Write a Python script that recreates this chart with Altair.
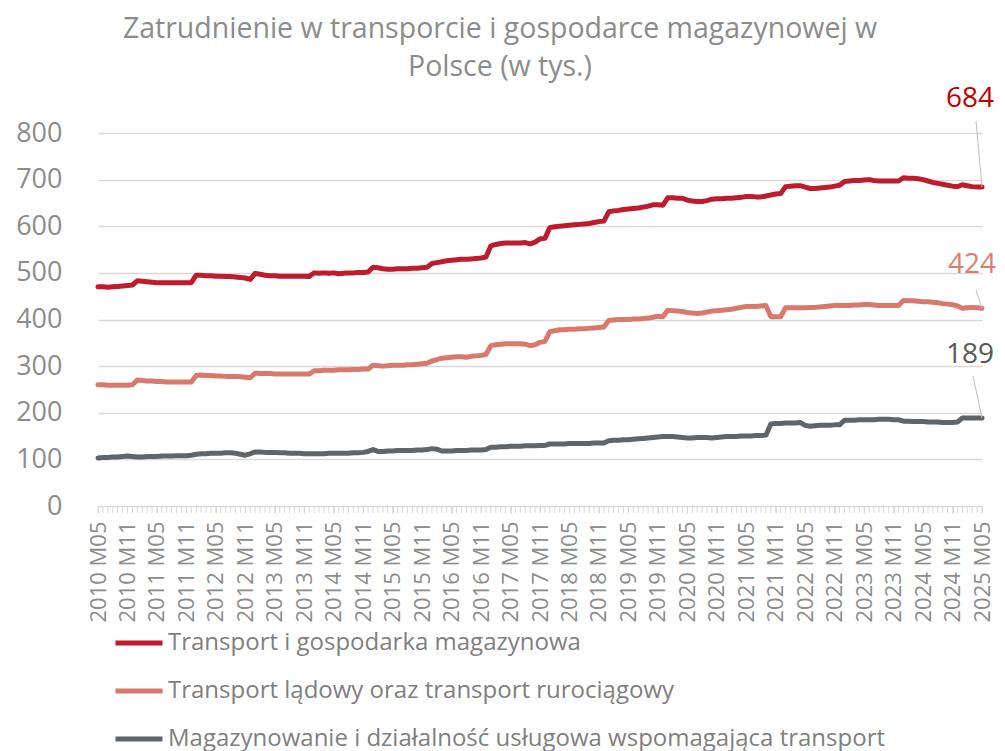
import json
import altair as alt
import pandas as pd

# ---------------- data ----------------
series_names = [
    "Transport i gospodarka magazynowa",
    "Transport lądowy oraz transport rurociągowy",
    "Magazynowanie i działalność usługowa wspomagająca transport",
]

tick_labels = [
    "2010 M05", "2010 M11", "2011 M05", "2011 M11", "2012 M05", "2012 M11",
    "2013 M05", "2013 M11", "2014 M05", "2014 M11", "2015 M05", "2015 M11",
    "2016 M05", "2016 M11", "2017 M05", "2017 M11", "2018 M05", "2018 M11",
    "2019 M05", "2019 M11", "2020 M05", "2020 M11", "2021 M05", "2021 M11",
    "2022 M05", "2022 M11", "2023 M05", "2023 M11", "2024 M05", "2024 M11",
    "2025 M05",
]

# monthly values, 2010 M05 ... 2025 M05 (181 months)
transport_total = [
    470, 470, 469, 470, 471, 472, 473, 474,
    483, 482, 481, 480, 479, 479, 479, 479, 479, 479, 479, 479,
    495, 495, 494, 494, 493, 493, 492, 492, 491, 490, 489, 486,
    499, 497, 495, 494, 494, 493, 493, 493, 493, 493, 493, 492,
    500, 499, 500, 499, 500, 498, 499, 500, 500, 501, 501, 502,
    512, 511, 509, 508, 508, 509, 509, 509, 510, 510, 511, 512,
    520, 522, 524, 526, 527, 528, 529, 529, 530, 531, 532, 534,
    558, 561, 563, 564, 564, 564, 564, 565, 562, 566, 573, 574,
    597, 599, 600, 601, 602, 603, 604, 605, 606, 608, 610, 611,
    631, 633, 634, 636, 637, 638, 639, 641, 643, 646, 646, 645,
    661, 661, 660, 660, 656, 654, 653, 653, 655, 658, 659, 659,
    660, 660, 661, 662, 664, 664, 663, 663, 665, 667, 669, 670,
    685, 686, 687, 687, 684, 681, 681, 682, 683, 684, 686, 688,
    696, 697, 698, 698, 699, 700, 698, 697, 697, 697, 697, 697,
    704, 703, 703, 702, 700, 697, 694, 692, 690, 688, 686, 685,
    689, 687, 685, 684, 684,
]

land_pipeline = [
    260, 260, 259, 259, 259, 259, 259, 260,
    270, 269, 268, 268, 267, 267, 266, 266, 266, 266, 266, 266,
    280, 281, 280, 280, 279, 279, 278, 278, 278, 277, 276, 275,
    285, 284, 284, 284, 283, 283, 283, 283, 283, 283, 283, 283,
    290, 290, 291, 291, 291, 292, 292, 292, 293, 293, 294, 294,
    302, 301, 300, 301, 302, 302, 302, 303, 303, 304, 305, 306,
    311, 314, 317, 318, 319, 320, 320, 319, 321, 322, 323, 325,
    344, 346, 347, 348, 348, 348, 348, 347, 344, 346, 351, 353,
    374, 376, 378, 378, 379, 379, 380, 380, 381, 382, 383, 384,
    398, 399, 400, 400, 400, 401, 401, 402, 403, 405, 407, 406,
    420, 419, 418, 417, 415, 414, 413, 414, 416, 418, 419, 420,
    421, 422, 424, 426, 428, 428, 428, 429, 430, 406, 406, 406,
    425, 425, 425, 425, 425, 426, 426, 427, 428, 429, 430, 430,
    430, 430, 431, 431, 432, 432, 431, 430, 430, 430, 430, 430,
    441, 440, 440, 439, 438, 438, 437, 436, 434, 433, 432, 429,
    424, 425, 426, 425, 424,
]

warehousing = [
    103, 104, 104, 105, 105, 106, 107, 106,
    105, 105, 106, 106, 106, 107, 107, 107, 108, 108, 108, 109,
    111, 112, 112, 113, 113, 113, 114, 114, 113, 111, 109, 112,
    116, 116, 115, 115, 115, 114, 114, 113, 113, 113, 112, 112,
    112, 112, 112, 113, 113, 113, 113, 113, 114, 114, 115, 117,
    121, 117, 117, 118, 118, 119, 119, 119, 119, 120, 120, 121,
    123, 122, 118, 118, 118, 119, 119, 119, 120, 120, 120, 121,
    126, 126, 127, 127, 128, 128, 128, 129, 129, 129, 130, 130,
    133, 133, 133, 133, 134, 134, 134, 134, 134, 135, 135, 135,
    140, 141, 141, 142, 142, 143, 144, 145, 146, 147, 148, 149,
    149, 149, 148, 147, 146, 146, 147, 147, 147, 146, 147, 148,
    149, 149, 149, 150, 150, 150, 151, 151, 152, 176, 177, 177,
    178, 178, 178, 179, 173, 171, 172, 173, 173, 173, 174, 174,
    184, 184, 184, 185, 185, 185, 185, 186, 186, 186, 185, 185,
    182, 182, 181, 181, 181, 180, 180, 180, 179, 179, 179, 180,
    189, 189, 189, 189, 189,
]

all_series = [transport_total, land_pipeline, warehousing]

# ---------------- styles ----------------
line_colors = ["#be1b2c", "#d9796c", "#5f6568"]
label_colors = ["#c00000", "#e07c6e", "#595959"]
FONT = "Open Sans"
GREY_TXT = "#8c8c8c"
TICK_GREY = "#d9d9d9"

W, H = 884, 373

rows = []
for name, vals in zip(series_names, all_series):
    for i, v in enumerate(vals):
        rows.append({"idx": i, "value": v, "series": name})
df = pd.DataFrame(rows)

n_last = len(transport_total) - 1
x_scale = alt.Scale(domain=[0, n_last], nice=False, zero=False)
y_scale = alt.Scale(domain=[0, 800], nice=False)

label_values = [6 * k for k in range(len(tick_labels))]
label_expr = (
    json.dumps(tick_labels, ensure_ascii=False) + "[round(datum.value / 6)]"
)

lines = alt.Chart(df).mark_line(
    strokeWidth=5, strokeJoin="round", strokeCap="round"
).encode(
    x=alt.X(
        "idx:Q",
        scale=x_scale,
        title=None,
        axis=alt.Axis(
            values=label_values,
            tickCount=len(label_values) + 5,
            labelExpr=label_expr,
            labelAngle=-90,
            labelOverlap=False,
            labelBound=False,
            labelFlush=False,
            labelFontSize=22,
            labelFont=FONT,
            labelColor=GREY_TXT,
            labelPadding=8,
            tickSize=7,
            tickColor=TICK_GREY,
            domainColor=TICK_GREY,
            grid=False,
        ),
    ),
    y=alt.Y(
        "value:Q",
        scale=y_scale,
        title=None,
        axis=alt.Axis(
            values=[0, 100, 200, 300, 400, 500, 600, 700, 800],
            tickCount=15,
            labelFontSize=27,
            labelFont=FONT,
            labelColor=GREY_TXT,
            labelPadding=36,
            ticks=False,
            tickSize=0,
            domain=False,
            gridColor=TICK_GREY,
            gridWidth=1.3,
        ),
    ),
    color=alt.Color(
        "series:N",
        scale=alt.Scale(domain=series_names, range=line_colors),
        sort=series_names,
        legend=alt.Legend(
            title=None,
            orient="none",
            legendX=15,
            legendY=484,
            direction="vertical",
            symbolType="stroke",
            symbolSize=2209,
            symbolStrokeWidth=5,
            labelFontSize=24,
            labelFont=FONT,
            labelColor="#7f7f7f",
            labelLimit=0,
            labelOffset=3,
            rowPadding=10,
        ),
    ),
)

# monthly minor tick marks under the category axis
month_df = pd.DataFrame({"idx": list(range(n_last + 1))})
minor_ticks = alt.Chart(month_df).mark_rule(color=TICK_GREY, strokeWidth=1).encode(
    x=alt.X("idx:Q", scale=x_scale),
    y=alt.value(H),
    y2=alt.value(H + 7),
)

# end-of-series labels with leader lines
label_offsets = [(-12, -88), (-10, -43), (-12, -63)]
leader_ends = [(878, -12), (878, 157), (875, 243)]
layers = [minor_ticks, lines]
for name, vals, col, (dx, dy), (lx, ly) in zip(
    series_names, all_series, label_colors, label_offsets, leader_ends
):
    end_df = pd.DataFrame({"idx": [n_last], "value": [vals[-1]]})
    rule = alt.Chart(end_df).mark_rule(color="#bfbfbf", strokeWidth=1).encode(
        x=alt.X("idx:Q", scale=x_scale),
        y=alt.Y("value:Q", scale=y_scale),
        x2=alt.value(lx),
        y2=alt.value(ly),
    )
    txt = alt.Chart(end_df).mark_text(
        dx=dx, dy=dy, fontSize=28, font=FONT, color=col,
        align="center", baseline="middle",
    ).encode(
        x=alt.X("idx:Q", scale=x_scale),
        y=alt.Y("value:Q", scale=y_scale),
        text=alt.Text("value:Q", format="d"),
    )
    layers += [rule, txt]

chart = alt.layer(*layers).properties(
    width=W,
    height=H,
    title=alt.TitleParams(
        text=["Zatrudnienie w transporcie i gospodarce magazynowej w",
              "Polsce (w tys.)"],
        font=FONT,
        fontSize=28.5,
        fontWeight="normal",
        color="#8c8c8c",
        anchor="middle",
        dx=-40,
        lineHeight=38,
        offset=4,
    ),
    autosize=alt.AutoSizeParams(type="none"),
    padding={"left": 90, "top": 125, "right": 15, "bottom": 250},
).configure_view(stroke=None)

chart.save("out.html", embed_options={"renderer": "svg", "actions": False})
